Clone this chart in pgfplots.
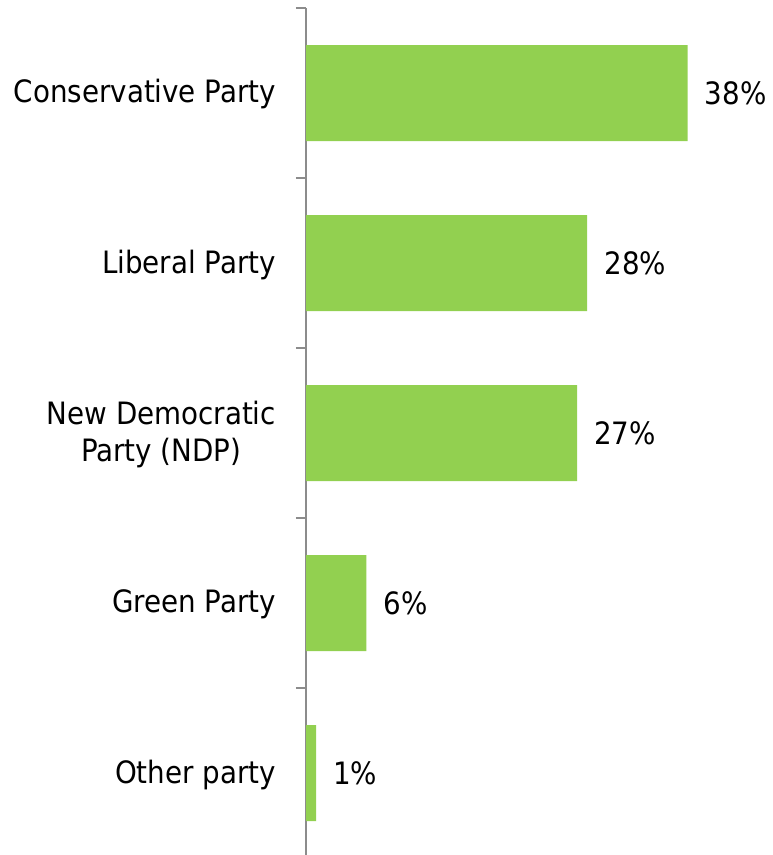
\documentclass[border=0pt]{standalone}
\usepackage{fontspec}
\setmainfont{DejaVu Sans Condensed}
\usepackage{pgfplots}
\pgfplotsset{compat=1.18}
\definecolor{bargreen}{HTML}{92D050}
\definecolor{axisgray}{HTML}{8C8C8C}
\begin{document}
\fontsize{30.8bp}{37bp}\selectfont
\begin{tikzpicture}
\useasboundingbox (0,0) rectangle (773bp,855bp);
\begin{axis}[
  at={(306bp,-3bp)}, anchor=south west,
  scale only axis,
  width=467bp, height=850bp,
  xbar, bar width=96bp,
  xmin=0, xmax=46.5,
  ymin=-0.5, ymax=4.5,
  y dir=reverse,
  axis x line=none,
  axis y line*=left,
  y axis line style={axisgray, line width=1.3bp, -},
  ytick={0,1,2,3,4},
  yticklabels={Conservative Party, Liberal Party, {New Democratic\\Party (NDP)}, Green Party, Other party},
  major tick length=0pt,
  minor ytick={-0.5,0.5,1.5,2.5,3.5,4.5},
  minor tick length=10bp,
  tick align=outside,
  minor tick style={axisgray, line width=1.3bp},
  yticklabel style={align=center, inner sep=0pt, xshift=-30bp, yshift=-1.5bp, font=\fontsize{30.8bp}{37bp}\selectfont},
  /pgf/number format/assume math mode=true,
  nodes near coords={\pgfmathprintnumber{\pgfplotspointmeta}\%},
  every node near coord/.append style={anchor=west, inner sep=0pt, xshift=17bp, font=\fontsize{30.8bp}{37bp}\selectfont, black},
  clip=false,
]
\addplot[fill=bargreen, draw=none] coordinates {(38,0) (28,1) (27,2) (6,3) (1,4)};
\end{axis}
\end{tikzpicture}
\end{document}
